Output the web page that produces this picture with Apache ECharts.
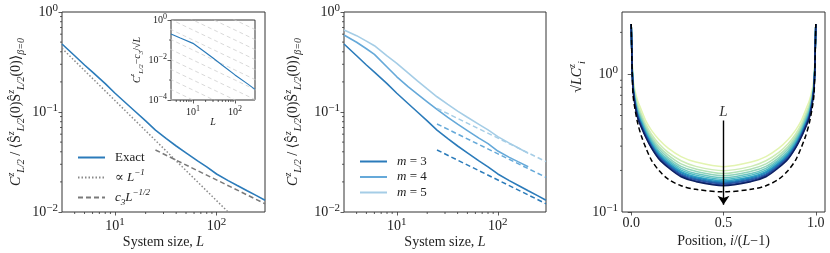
<!DOCTYPE html>
<html><head><meta charset="utf-8">
<script src="https://cdn.jsdelivr.net/npm/echarts@6/dist/echarts.min.js"></script>
<style>html,body{margin:0;padding:0;background:#fff}#c{width:830px;height:253px}</style>
</head><body><div id="c"></div>
<script>
// ---------- data ----------
const sizesL = [3,4,5,6,8,10,13,16,20,25,32,40,50,65,80,100,130,160,200,250,300];
const exactC = [0.479,0.365,0.295,0.25,0.192,0.154,0.121,0.1,0.0814,0.066,0.0542,0.0457,0.039,0.0324,0.0283,0.024,0.0206,0.0184,0.0163,0.0145,0.0131];
const sizesLShort = [3,4,5,6,8,10,13,16,20,25,32,40,50,65,80,100,130,160,200];
const m4C = [0.589,0.498,0.429,0.377,0.282,0.225,0.178,0.151,0.1266,0.106,0.0883,0.0756,0.0652,0.0548,0.0483,0.0407,0.0352,0.0317,0.0284];
const m5C = [0.66,0.58,0.511,0.46,0.364,0.307,0.245,0.205,0.17,0.142,0.119,0.102,0.0886,0.0753,0.0662,0.0567,0.0488,0.0436,0.0386];
const propLine = [[3,0.433],[300,0.00433]];
const c3Line = [[25,0.0417],[300,0.0121]];
const m4Line = [[25,0.0759],[300,0.0222]];
const m5Line = [[25,0.1088],[300,0.0319]];
const insetL = [3,5,10,20,30,50,100,200,300];
const insetDiff = [0.2,0.126,0.068,0.024,0.0127,0.0055,0.0018,0.00064,0.00034];
const insetGuideLevels = [0.000316,0.001,0.00316,0.01,0.0316,0.1,0.316,1,3.16,10,31.6,100,316];
const posX = [0,0.005,0.01,0.02,0.035,0.055,0.08,0.11,0.15,0.2,0.27,0.35,0.5,0.65,0.73,0.8,0.85,0.89,0.92,0.945,0.965,0.98,0.99,0.995,1];
const profile1 = [2.3,1.25,0.93,0.76,0.64,0.548,0.455,0.39,0.335,0.29,0.252,0.23,0.213,0.23,0.252,0.29,0.335,0.39,0.455,0.548,0.64,0.76,0.93,1.25,2.3];
const profile2 = [2.3,1.217,0.893,0.722,0.602,0.515,0.429,0.366,0.312,0.27,0.235,0.214,0.199,0.214,0.235,0.27,0.312,0.366,0.429,0.515,0.602,0.722,0.893,1.217,2.3];
const profile3 = [2.3,1.194,0.869,0.698,0.577,0.494,0.412,0.351,0.298,0.258,0.223,0.205,0.19,0.205,0.223,0.258,0.298,0.351,0.412,0.494,0.577,0.698,0.869,1.194,2.3];
const profile4 = [2.3,1.176,0.849,0.679,0.557,0.477,0.398,0.338,0.287,0.248,0.214,0.197,0.183,0.197,0.214,0.248,0.287,0.338,0.398,0.477,0.557,0.679,0.849,1.176,2.3];
const profile5 = [2.3,1.161,0.833,0.662,0.541,0.463,0.387,0.329,0.277,0.24,0.207,0.19,0.177,0.19,0.207,0.24,0.277,0.329,0.387,0.463,0.541,0.662,0.833,1.161,2.3];
const profile6 = [2.3,1.147,0.819,0.649,0.528,0.451,0.378,0.32,0.269,0.234,0.201,0.185,0.172,0.185,0.201,0.234,0.269,0.32,0.378,0.451,0.528,0.649,0.819,1.147,2.3];
const profile7 = [2.3,1.136,0.807,0.637,0.516,0.441,0.37,0.312,0.263,0.228,0.196,0.18,0.168,0.18,0.196,0.228,0.263,0.312,0.37,0.441,0.516,0.637,0.807,1.136,2.3];
const profile8 = [2.3,1.129,0.799,0.629,0.508,0.435,0.365,0.308,0.258,0.224,0.193,0.177,0.165,0.177,0.193,0.224,0.258,0.308,0.365,0.435,0.508,0.629,0.799,1.129,2.3];
const profile9 = [2.3,1.12,0.791,0.62,0.5,0.427,0.358,0.302,0.253,0.22,0.189,0.174,0.162,0.174,0.189,0.22,0.253,0.302,0.358,0.427,0.5,0.62,0.791,1.12,2.3];
const profile10 = [2.3,1.114,0.785,0.614,0.494,0.422,0.355,0.299,0.25,0.217,0.186,0.171,0.16,0.171,0.186,0.217,0.25,0.299,0.355,0.422,0.494,0.614,0.785,1.114,2.3];
const profile11 = [2.3,1.106,0.776,0.606,0.486,0.415,0.349,0.293,0.245,0.213,0.183,0.168,0.157,0.168,0.183,0.213,0.245,0.293,0.349,0.415,0.486,0.606,0.776,1.106,2.3];
const profile12 = [2.3,1.1,0.77,0.6,0.48,0.41,0.345,0.29,0.242,0.21,0.18,0.166,0.155,0.166,0.18,0.21,0.242,0.29,0.345,0.41,0.48,0.6,0.77,1.1,2.3];
const limitProfile = [2.3,1.05,0.7,0.56,0.44,0.355,0.29,0.237,0.2,0.173,0.155,0.146,0.14,0.146,0.155,0.173,0.2,0.237,0.29,0.355,0.44,0.56,0.7,1.05,2.3];
const arrowFrom = [0.5,0.46], arrowTo = [0.5,0.113], arrowLabelAt = [0.5,0.53];

// tick values and labels
const mainXTicks = [10,100], mainXExp = ['1','2'];
const mainYTicks = [0.01,0.1,1], mainYExp = ['\u22122','\u22121','0'];
const insetYTicks = [0.0001,0.01,1], insetYExp = ['\u22124','\u22122','0'];
const posTicks = [0,0.5,1], posTickLabels = ['0.0','0.5','1.0'];
const prof3YTicks = [0.1,1], prof3YExp = ['\u22121','0'];
const minorLog = [2,3,4,5,6,7,8,9];

// ---------- styling helpers ----------
const SERIF = '"Liberation Serif","DejaVu Serif",serif';
const INK = '#222';
const profileColors = ['#e3f4b1','#cdebb4','#b2e1b6','#8ed3ba','#6cc5be','#4cb9c3','#33a5c2','#228dbf','#2173b2','#235aa5','#253f98','#0c2161'];
const profiles = [profile1,profile2,profile3,profile4,profile5,profile6,profile7,profile8,profile9,profile10,profile11,profile12];

function rich(size){
  const s = Math.round(size*0.68);
  return {
    n:{fontFamily:SERIF,fontSize:size,lineHeight:size+6,color:INK},
    it:{fontFamily:SERIF,fontStyle:'italic',fontSize:size,lineHeight:size+6,color:INK},
    sp:{fontFamily:SERIF,fontStyle:'italic',fontSize:s,lineHeight:s+1,verticalAlign:'top',color:INK},
    sb:{fontFamily:SERIF,fontStyle:'italic',fontSize:s,lineHeight:s+1,verticalAlign:'bottom',color:INK},
    b:{fontFamily:SERIF,fontSize:size,lineHeight:size+4,color:INK},
    e:{fontFamily:SERIF,fontSize:s+1,lineHeight:s+1,verticalAlign:'top',color:INK}
  };
}
function expFmt(vals, exps){
  return function(v){
    const i = vals.findIndex(t => Math.abs(Math.log10(t)-Math.log10(v)) < 1e-6);
    return i < 0 ? '' : '{b|10}{e|' + exps[i] + '}';
  };
}
function zip(a,b){ return a.map((v,i)=>[v,b[i]]); }
function minorList(decades){ const out=[]; decades.forEach(d=>minorLog.forEach(m=>out.push(m*d))); return out; }

function tickSeries(xi, xTicks, yTicks, xMin, yMin, len){
  const data = [];
  xTicks.forEach(v=>data.push([v,yMin,0,len]));
  yTicks.forEach(v=>data.push([xMin,v,1,len]));
  return {
    type:'custom', xAxisIndex:xi, yAxisIndex:xi, silent:true, clip:false, z:10,
    dimensions:['x','y','k','len'], encode:{x:'x',y:'y'},
    data,
    renderItem:function(params, api){
      const p = api.coord([api.value(0), api.value(1)]);
      const l = api.value(3);
      const shape = api.value(2) === 0 ? {x1:p[0],y1:p[1],x2:p[0],y2:p[1]+l} : {x1:p[0]-l,y1:p[1],x2:p[0],y2:p[1]};
      return {type:'line', shape, style:{stroke:'#333', lineWidth:0.8}};
    }
  };
}

const mainYName = '{it|C}{sp|z}{sb|L/2}{n| / \u27E8}{n|\u015C}{sp|z}{sb|L/2}{n|(0)\u015C}{sp|z}{sb|L/2}{n|(0)\u27E9}{sb|\u03B2=0}';
const sizeName = '{n|System size, }{it|L}';

function logX(gi, min, max, ticks, exps, fs, name, gap){
  return {
    gridIndex:gi, type:'log', logBase:10, min, max,
    axisLine:{show:false}, splitLine:{show:false},
    axisTick:{show:true, customValues:ticks, length:3.5, lineStyle:{color:'#333', width:0.8}},
    axisLabel:{customValues:ticks, formatter:expFmt(ticks,exps), margin:5, rich:rich(fs)},
    name, nameLocation:'middle', nameGap:gap, nameMoveOverlap:false,
    nameTextStyle:{rich:rich(fs)}
  };
}
function logY(gi, min, max, ticks, exps, fs, name, gap){
  return {
    gridIndex:gi, type:'log', logBase:10, min, max,
    axisLine:{show:false}, splitLine:{show:false},
    axisTick:{show:true, customValues:ticks, length:3.5, lineStyle:{color:'#333', width:0.8}},
    axisLabel:{customValues:ticks, formatter:expFmt(ticks,exps), margin:4, rich:rich(fs)},
    name, nameLocation:'middle', nameGap:gap, nameRotate:90, nameMoveOverlap:false,
    nameTextStyle:{rich:rich(fs)}
  };
}

const gridBase = {show:true, borderColor:'#333', borderWidth:1, outerBoundsMode:'none', containLabel:false};

const series = [];
// panel 1
series.push({name:'Exact', type:'line', xAxisIndex:0, yAxisIndex:0, data:zip(sizesL,exactC), symbol:'none',
  lineStyle:{color:'#2b7bba', width:1.6}, itemStyle:{color:'#2b7bba'}, z:3});
series.push({name:'prop', type:'line', xAxisIndex:0, yAxisIndex:0, data:propLine, symbol:'none',
  lineStyle:{color:'#8a8a8a', width:1.5, type:[1.5,2]}, itemStyle:{color:'#8a8a8a'}, z:2});
series.push({name:'c3', type:'line', xAxisIndex:0, yAxisIndex:0, data:c3Line, symbol:'none',
  lineStyle:{color:'#7a7a7a', width:1.5, type:[5,3]}, itemStyle:{color:'#7a7a7a'}, z:2});
// inset
insetGuideLevels.forEach(a=>{
  series.push({type:'line', xAxisIndex:1, yAxisIndex:1, data:[[1,a],[1000,a/1000]], symbol:'none', silent:true,
    lineStyle:{color:'#cfcfcf', width:0.8, type:[4,3]}, z:5});
});
series.push({type:'line', xAxisIndex:1, yAxisIndex:1, data:zip(insetL,insetDiff), symbol:'none',
  lineStyle:{color:'#2b7bba', width:1.2}, z:6});
// panel 2
series.push({name:'m3', type:'line', xAxisIndex:2, yAxisIndex:2, data:zip(sizesL,exactC), symbol:'none',
  lineStyle:{color:'#2b7bba', width:1.6}, itemStyle:{color:'#2b7bba'}});
series.push({name:'m4', type:'line', xAxisIndex:2, yAxisIndex:2, data:zip(sizesLShort,m4C), symbol:'none',
  lineStyle:{color:'#65a9d9', width:1.6}, itemStyle:{color:'#65a9d9'}});
series.push({name:'m5', type:'line', xAxisIndex:2, yAxisIndex:2, data:zip(sizesLShort,m5C), symbol:'none',
  lineStyle:{color:'#a5cde6', width:1.6}, itemStyle:{color:'#a5cde6'}});
[[c3Line,'#2b7bba'],[m4Line,'#65a9d9'],[m5Line,'#a5cde6']].forEach(([d,c])=>{
  series.push({type:'line', xAxisIndex:2, yAxisIndex:2, data:d, symbol:'none', silent:true,
    lineStyle:{color:c, width:1.5, type:[5,3]}});
});
// panel 3
profiles.forEach((p,i)=>{
  series.push({type:'line', xAxisIndex:3, yAxisIndex:3, data:zip(posX,p), symbol:'none', smooth:0.3, silent:true,
    lineStyle:{color:profileColors[i], width:1.5}, z:2});
});
series.push({type:'line', xAxisIndex:3, yAxisIndex:3, data:zip(posX,limitProfile), symbol:'none', smooth:0.3, silent:true,
  lineStyle:{color:'#000', width:1.5, type:[5,3]}, z:3});
series.push({type:'lines', coordinateSystem:'cartesian2d', xAxisIndex:3, yAxisIndex:3, silent:true, z:4,
  symbol:['none','arrow'], symbolSize:[0,9],
  lineStyle:{color:'#000', width:1.4, opacity:1},
  data:[{coords:[arrowFrom, arrowTo]}]});
series.push({type:'scatter', xAxisIndex:3, yAxisIndex:3, data:[arrowLabelAt], symbolSize:0, silent:true,
  label:{show:true, position:'inside', formatter:'L', fontFamily:SERIF, fontStyle:'italic', fontSize:15, color:'#000'}});
// minor ticks
series.push(tickSeries(0, minorList([1,10]).filter(v=>v>3&&v<=300), minorList([0.01,0.1]).filter(v=>v<1), 3, 0.01, 2));
series.push(tickSeries(1, minorList([1,10]).filter(v=>v>3&&v<=300), [0.001,0.1], 3, 0.0001, 2));
series.push(tickSeries(2, minorList([1,10]).filter(v=>v>3&&v<=300), minorList([0.01,0.1]).filter(v=>v<1), 3, 0.01, 2));
series.push(tickSeries(3, [], minorList([0.1,1]).filter(v=>v<2.8), -0.05, 0.1, 2));

const legendText = {
  'Exact':'{n|Exact}',
  'prop':'{n|\u221D }{it|L}{sp|\u22121}',
  'c3':'{it|c}{sb|3}{it|L}{sp|\u22121/2}',
  'm3':'{it|m}{n| = 3}', 'm4':'{it|m}{n| = 4}', 'm5':'{it|m}{n| = 5}'
};

const option = {
  animation:false,
  backgroundColor:'#fff',
  grid:[
    Object.assign({left:62, top:12, width:203, height:200}, gridBase),
    Object.assign({left:171, top:20, width:84, height:80, backgroundColor:'#fff', z:4}, gridBase),
    Object.assign({left:344, top:12, width:202, height:200}, gridBase),
    Object.assign({left:622, top:12, width:203, height:200}, gridBase)
  ],
  xAxis:[
    logX(0,3,300,mainXTicks,mainXExp,14,sizeName,20),
    logX(1,3,300,mainXTicks,mainXExp,10,'{it|L}',14),
    logX(2,3,300,mainXTicks,mainXExp,14,sizeName,20),
    {gridIndex:3, type:'value', min:-0.05, max:1.05,
      axisLine:{show:false}, splitLine:{show:false},
      axisTick:{show:true, customValues:posTicks, length:3.5, lineStyle:{color:'#333', width:0.8}},
      axisLabel:{customValues:posTicks, margin:4, fontFamily:SERIF, fontSize:14, color:INK,
        formatter:v=>{const i=posTicks.findIndex(t=>Math.abs(t-v)<1e-9); return i<0?'':posTickLabels[i];}},
      name:'{n|Position, }{it|i}{n|/(}{it|L}{n|\u22121)}', nameLocation:'middle', nameGap:19, nameMoveOverlap:false,
      nameTextStyle:{rich:rich(14)}}
  ],
  yAxis:[
    logY(0,0.01,1,mainYTicks,mainYExp,14,mainYName,36),
    logY(1,0.0001,1,insetYTicks,insetYExp,10,'{it|C}{sp|z}{sb|L/2}{n|\u2212}{it|c}{sb|3}{n|/\u221A}{it|L}',26),
    logY(2,0.01,1,mainYTicks,mainYExp,14,mainYName,41),
    Object.assign(logY(3,0.1,2.81,prof3YTicks,prof3YExp,14,'',40),{name:''})
  ],
  legend:[
    {data:['Exact','prop','c3'], orient:'vertical', left:72, top:146, itemWidth:27, itemHeight:12, itemGap:4,
      itemStyle:{opacity:0}, formatter:n=>legendText[n], textStyle:{padding:[0,0,0,5], rich:rich(13)}},
    {data:['m3','m4','m5'], orient:'vertical', left:354, top:150, itemWidth:27, itemHeight:12, itemGap:2.5,
      itemStyle:{opacity:0}, formatter:n=>legendText[n], textStyle:{padding:[0,0,0,5], rich:rich(13)}}
  ],
  graphic:[
    {type:'text', x:577, y:77, rotation:Math.PI/2, silent:true,
      style:{text:'{n|\u221AL}{it|C}{sp|z}{sb|i}', align:'center', verticalAlign:'middle',
        rich:{
          n:{fontFamily:SERIF,fontStyle:'italic',fontSize:14,lineHeight:20,fill:INK},
          it:{fontFamily:SERIF,fontStyle:'italic',fontSize:14,lineHeight:20,fill:INK},
          sp:{fontFamily:SERIF,fontStyle:'italic',fontSize:10,lineHeight:11,verticalAlign:'top',fill:INK},
          sb:{fontFamily:SERIF,fontStyle:'italic',fontSize:10,lineHeight:11,verticalAlign:'bottom',fill:INK}
        }}}
  ],
  series
};
const chart = echarts.init(document.getElementById('c'), null, {renderer:'canvas'});
chart.setOption(option);
</script></body></html>
